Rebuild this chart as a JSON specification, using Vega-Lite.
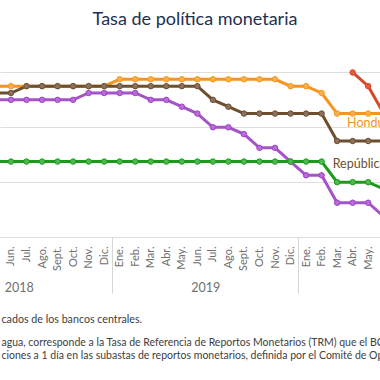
{
  "$schema": "https://vega.github.io/schema/vega-lite/v6.json",
  "width": 380,
  "height": 192,
  "autosize": "none",
  "padding": {"left": 0, "top": 45, "right": 0, "bottom": 143},
  "background": "white",
  "config": {"view": {"stroke": null}, "font": "Lato"},
  "title": {"text": "Tasa de política monetaria", "fontSize": 18, "fontWeight": "normal", "color": "#1e3050", "anchor": "middle", "offset": 16, "dx": 5},
  "data": {"values": [
    {"pais": "Costa Rica", "m": -1, "v": 5}, {"pais": "Costa Rica", "m": 0, "v": 5}, {"pais": "Costa Rica", "m": 1, "v": 5}, {"pais": "Costa Rica", "m": 2, "v": 5}, {"pais": "Costa Rica", "m": 3, "v": 5}, {"pais": "Costa Rica", "m": 4, "v": 5}, {"pais": "Costa Rica", "m": 5, "v": 5.25}, {"pais": "Costa Rica", "m": 6, "v": 5.25}, {"pais": "Costa Rica", "m": 7, "v": 5.25}, {"pais": "Costa Rica", "m": 8, "v": 5.25}, {"pais": "Costa Rica", "m": 9, "v": 5}, {"pais": "Costa Rica", "m": 10, "v": 5}, {"pais": "Costa Rica", "m": 11, "v": 4.75}, {"pais": "Costa Rica", "m": 12, "v": 4.5}, {"pais": "Costa Rica", "m": 13, "v": 4}, {"pais": "Costa Rica", "m": 14, "v": 4}, {"pais": "Costa Rica", "m": 15, "v": 3.75}, {"pais": "Costa Rica", "m": 16, "v": 3.25}, {"pais": "Costa Rica", "m": 17, "v": 3.25}, {"pais": "Costa Rica", "m": 18, "v": 2.75}, {"pais": "Costa Rica", "m": 19, "v": 2.25}, {"pais": "Costa Rica", "m": 20, "v": 2.25}, {"pais": "Costa Rica", "m": 21, "v": 1.25}, {"pais": "Costa Rica", "m": 22, "v": 1.25}, {"pais": "Costa Rica", "m": 23, "v": 1.25}, {"pais": "Costa Rica", "m": 24, "v": 0.75},
    {"pais": "Guatemala", "m": -1, "v": 2.75}, {"pais": "Guatemala", "m": 0, "v": 2.75}, {"pais": "Guatemala", "m": 1, "v": 2.75}, {"pais": "Guatemala", "m": 2, "v": 2.75}, {"pais": "Guatemala", "m": 3, "v": 2.75}, {"pais": "Guatemala", "m": 4, "v": 2.75}, {"pais": "Guatemala", "m": 5, "v": 2.75}, {"pais": "Guatemala", "m": 6, "v": 2.75}, {"pais": "Guatemala", "m": 7, "v": 2.75}, {"pais": "Guatemala", "m": 8, "v": 2.75}, {"pais": "Guatemala", "m": 9, "v": 2.75}, {"pais": "Guatemala", "m": 10, "v": 2.75}, {"pais": "Guatemala", "m": 11, "v": 2.75}, {"pais": "Guatemala", "m": 12, "v": 2.75}, {"pais": "Guatemala", "m": 13, "v": 2.75}, {"pais": "Guatemala", "m": 14, "v": 2.75}, {"pais": "Guatemala", "m": 15, "v": 2.75}, {"pais": "Guatemala", "m": 16, "v": 2.75}, {"pais": "Guatemala", "m": 17, "v": 2.75}, {"pais": "Guatemala", "m": 18, "v": 2.75}, {"pais": "Guatemala", "m": 19, "v": 2.75}, {"pais": "Guatemala", "m": 20, "v": 2.75}, {"pais": "Guatemala", "m": 21, "v": 2}, {"pais": "Guatemala", "m": 22, "v": 2}, {"pais": "Guatemala", "m": 23, "v": 2}, {"pais": "Guatemala", "m": 24, "v": 1.75},
    {"pais": "Honduras", "m": -1, "v": 5.5}, {"pais": "Honduras", "m": 0, "v": 5.5}, {"pais": "Honduras", "m": 1, "v": 5.5}, {"pais": "Honduras", "m": 2, "v": 5.5}, {"pais": "Honduras", "m": 3, "v": 5.5}, {"pais": "Honduras", "m": 4, "v": 5.5}, {"pais": "Honduras", "m": 5, "v": 5.5}, {"pais": "Honduras", "m": 6, "v": 5.5}, {"pais": "Honduras", "m": 7, "v": 5.75}, {"pais": "Honduras", "m": 8, "v": 5.75}, {"pais": "Honduras", "m": 9, "v": 5.75}, {"pais": "Honduras", "m": 10, "v": 5.75}, {"pais": "Honduras", "m": 11, "v": 5.75}, {"pais": "Honduras", "m": 12, "v": 5.75}, {"pais": "Honduras", "m": 13, "v": 5.75}, {"pais": "Honduras", "m": 14, "v": 5.75}, {"pais": "Honduras", "m": 15, "v": 5.75}, {"pais": "Honduras", "m": 16, "v": 5.75}, {"pais": "Honduras", "m": 17, "v": 5.75}, {"pais": "Honduras", "m": 18, "v": 5.5}, {"pais": "Honduras", "m": 19, "v": 5.5}, {"pais": "Honduras", "m": 20, "v": 5.25}, {"pais": "Honduras", "m": 21, "v": 4.5}, {"pais": "Honduras", "m": 22, "v": 4.5}, {"pais": "Honduras", "m": 23, "v": 4.5}, {"pais": "Honduras", "m": 24, "v": 4.5},
    {"pais": "Nicaragua", "m": 22, "v": 6}, {"pais": "Nicaragua", "m": 23, "v": 5.5}, {"pais": "Nicaragua", "m": 24, "v": 4.5},
    {"pais": "República Dominicana", "m": -1, "v": 5.25}, {"pais": "República Dominicana", "m": 0, "v": 5.25}, {"pais": "República Dominicana", "m": 1, "v": 5.5}, {"pais": "República Dominicana", "m": 2, "v": 5.5}, {"pais": "República Dominicana", "m": 3, "v": 5.5}, {"pais": "República Dominicana", "m": 4, "v": 5.5}, {"pais": "República Dominicana", "m": 5, "v": 5.5}, {"pais": "República Dominicana", "m": 6, "v": 5.5}, {"pais": "República Dominicana", "m": 7, "v": 5.5}, {"pais": "República Dominicana", "m": 8, "v": 5.5}, {"pais": "República Dominicana", "m": 9, "v": 5.5}, {"pais": "República Dominicana", "m": 10, "v": 5.5}, {"pais": "República Dominicana", "m": 11, "v": 5.5}, {"pais": "República Dominicana", "m": 12, "v": 5.5}, {"pais": "República Dominicana", "m": 13, "v": 5}, {"pais": "República Dominicana", "m": 14, "v": 4.75}, {"pais": "República Dominicana", "m": 15, "v": 4.5}, {"pais": "República Dominicana", "m": 16, "v": 4.5}, {"pais": "República Dominicana", "m": 17, "v": 4.5}, {"pais": "República Dominicana", "m": 18, "v": 4.5}, {"pais": "República Dominicana", "m": 19, "v": 4.5}, {"pais": "República Dominicana", "m": 20, "v": 4.5}, {"pais": "República Dominicana", "m": 21, "v": 3.5}, {"pais": "República Dominicana", "m": 22, "v": 3.5}, {"pais": "República Dominicana", "m": 23, "v": 3.5}, {"pais": "República Dominicana", "m": 24, "v": 3.5}
  ]},
  "resolve": {"axis": {"x": "independent"}},
  "layer": [
    {
      "mark": {"type": "line", "strokeWidth": 3, "clip": true},
      "encoding": {
        "x": {"field": "m", "type": "quantitative", "scale": {"domain": [-0.708, 23.76], "nice": false, "zero": false},
          "axis": {"orient": "bottom", "values": [-1,0,1,2,3,4,5,6,7,8,9,10,11,12,13,14,15,16,17,18,19,20,21,22,23,24],
            "labelExpr": "['Ene.','Feb.','Mar.','Abr.','May.','Jun.','Jul.','Ago.','Sept.','Oct.','Nov.','Dic.'][(datum.value+5)%12]",
            "labelAngle": -90, "ticks": false, "domain": false, "grid": false, "labelPadding": 9, "labelFontSize": 11, "labelColor": "#707070",
            "labelFlush": false, "labelOverlap": false, "labelBound": false,
            "title": "cados de los bancos centrales.", "titleX": 1, "titleY": 82, "titleAlign": "left", "titleAnchor": "start", "titleBaseline": "middle", "titleAngle": 0,
            "titleFontSize": 10.7, "titleFontWeight": "normal", "titleColor": "#404040"}},
        "y": {"field": "v", "type": "quantitative", "scale": {"domain": [0, 7], "nice": false, "zero": false},
          "axis": {"values": [0,0.5,1,1.5,2,2.5,3,3.5,4,4.5,5,5.5,6,6.5,7], "labels": false, "ticks": false, "domain": false, "gridColor": "#dedede", "title": null}},
        "color": {"field": "pais", "type": "nominal",
          "scale": {"domain": ["Costa Rica", "Guatemala", "Honduras", "Nicaragua", "República Dominicana"], "range": ["#a553c8", "#1b9a1b", "#f7941d", "#d9472b", "#6b4f2f"]},
          "legend": null}
      }
    },
    {
      "mark": {"type": "point", "filled": true, "size": 30, "strokeWidth": 1, "opacity": 1, "clip": true},
      "encoding": {
        "x": {"field": "m", "type": "quantitative",
          "axis": {"orient": "bottom", "values": [0.5, 12.5, 24.5], "labelExpr": "datum.value < 6 ? '2018' : datum.value < 18 ? '2019' : '2020'",
            "labelAngle": 0, "ticks": false, "domain": false, "grid": false, "labelPadding": 44, "labelFontSize": 12.5, "labelColor": "#707070",
            "labelFlush": false, "labelOverlap": false, "labelBound": false,
            "title": ["agua, corresponde a la Tasa de Referencia de Reportos Monetarios (TRM) que el BCN utiliza", "ciones a 1 día en las subastas de reportos monetarios, definida por el Comité de Operaciones Monetarias."],
            "titleX": 1, "titleY": 100.5, "titleAlign": "left", "titleAnchor": "start", "titleBaseline": "top", "titleAngle": 0, "titleLineHeight": 13,
            "titleFontSize": 10.5, "titleFontWeight": "normal", "titleColor": "#404040"}},
        "y": {"field": "v", "type": "quantitative"},
        "fill": {"field": "pais", "type": "nominal",
          "scale": {"domain": ["Costa Rica", "Guatemala", "Honduras", "Nicaragua", "República Dominicana"], "range": ["#b86bdb", "#50b850", "#fab04f", "#e25a3b", "#8b7161"]},
          "legend": null},
        "stroke": {"field": "pais", "type": "nominal",
          "scale": {"domain": ["Costa Rica", "Guatemala", "Honduras", "Nicaragua", "República Dominicana"], "range": ["#9b45bf", "#1b9a1b", "#f7941d", "#d9472b", "#6b4f2f"]},
          "legend": null}
      }
    },
    {
      "data": {"values": [
        {"pais": "Honduras", "m": 21.64, "v": 4.15, "label": "Honduras"},
        {"pais": "República Dominicana", "m": 20.71, "v": 2.65, "label": "República Dominicana"}
      ]},
      "mark": {"type": "text", "align": "left", "baseline": "middle", "fontSize": 12.5, "clip": true},
      "encoding": {
        "x": {"field": "m", "type": "quantitative",
          "axis": {"orient": "bottom", "values": [-5.5, 6.5, 18.5], "labels": false, "domain": false, "grid": false, "ticks": true, "tickSize": 56, "tickColor": "#d6d6d6", "title": null}},
        "y": {"field": "v", "type": "quantitative"},
        "text": {"field": "label"},
        "color": {"field": "pais", "type": "nominal", "legend": null}
      }
    }
  ]
}
